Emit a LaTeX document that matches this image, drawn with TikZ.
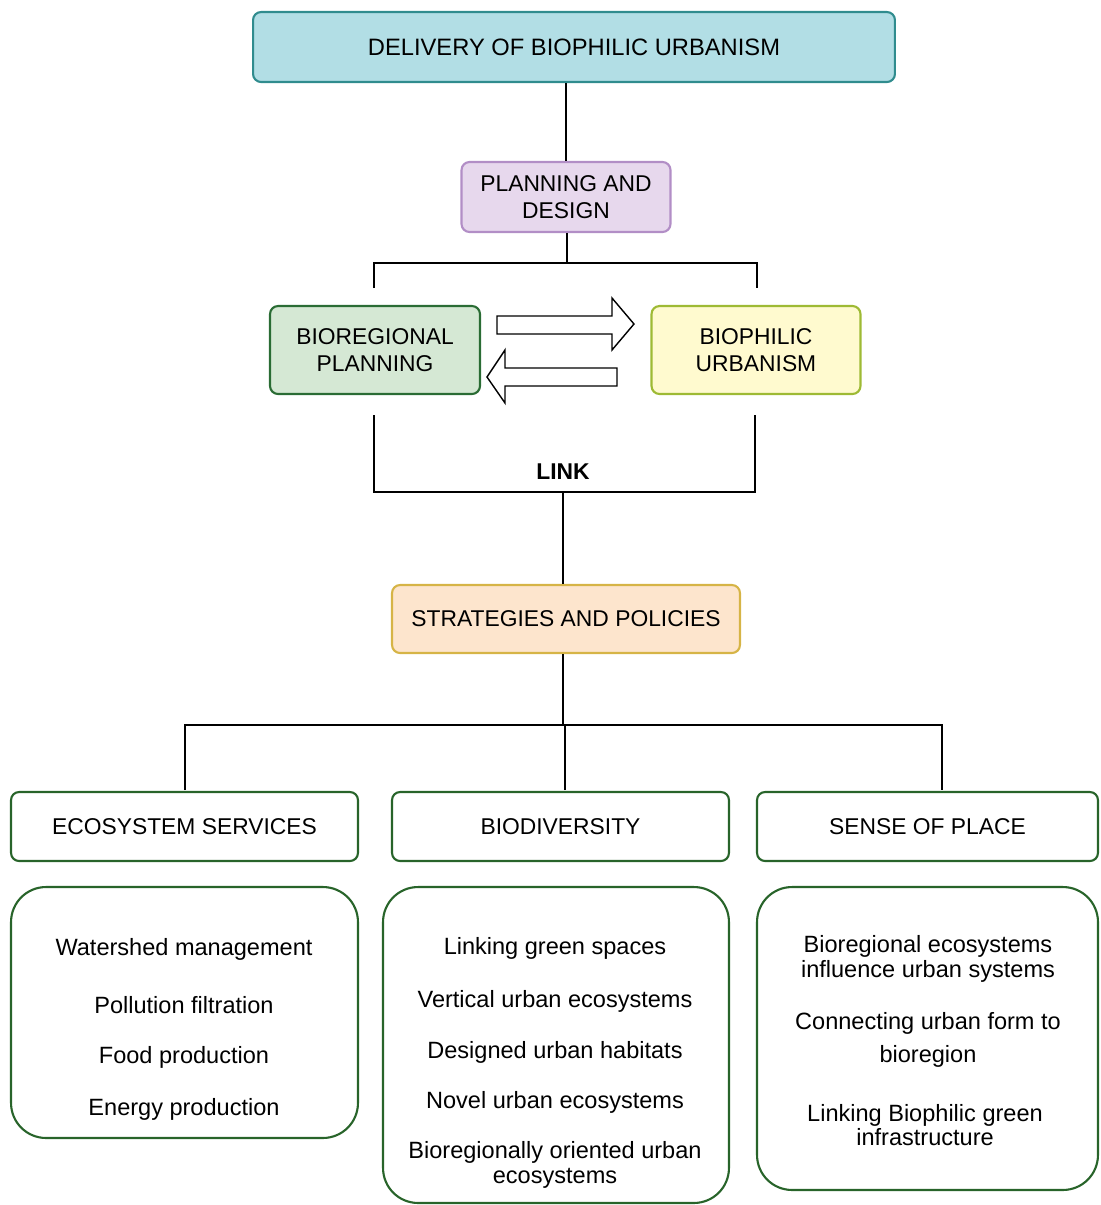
\documentclass[tikz,border=0pt]{standalone}
\usepackage{fontspec}
\setmainfont{Liberation Sans}
\usepackage{tikz}
\usetikzlibrary{positioning,calc}

\definecolor{topfill}{RGB}{178,222,229}
\definecolor{topline}{RGB}{48,140,142}
\definecolor{planfill}{RGB}{231,216,237}
\definecolor{planline}{RGB}{178,142,198}
\definecolor{biofill}{RGB}{213,232,212}
\definecolor{bioline}{RGB}{42,108,52}
\definecolor{philfill}{RGB}{255,250,207}
\definecolor{philline}{RGB}{158,186,52}
\definecolor{stratfill}{RGB}{253,229,205}
\definecolor{stratline}{RGB}{214,180,70}
\definecolor{boxline}{RGB}{40,100,42}

\tikzset{
  headbox/.style={draw, line width=1.2pt, rounded corners=0.16cm, align=center,
    font=\fontsize{13}{15.5}\selectfont, inner sep=0pt},
  catbox/.style={headbox, draw=boxline, fill=white, minimum height=1.38cm},
  listbox/.style={draw=boxline, line width=1.2pt, rounded corners=0.7cm, fill=white},
  item/.style={align=center, font=\fontsize{13.4}{13.8}\selectfont, inner sep=0pt},
  link/.style={line width=1.4pt},
  blockarrow/.style={draw, line width=0.8pt, fill=white}
}

\begin{document}
\begin{tikzpicture}[x=0.02cm, y=-0.02cm]
    \useasboundingbox (0,0) rectangle (1101,1205);

    % Top of the tree
    \node[headbox, draw=topline, fill=topfill, minimum width=12.84cm, minimum height=1.4cm,
      font=\fontsize{13.5}{16}\selectfont] (delivery) at (574,47) {DELIVERY OF BIOPHILIC URBANISM};
    \node[headbox, draw=planline, fill=planfill, minimum width=4.18cm, minimum height=1.4cm] (plan) at (566,197) {PLANNING AND\\DESIGN};
    \draw[link] (delivery.south -| plan) -- (plan);

    % Bioregional planning and biophilic urbanism
    \node[headbox, draw=bioline, fill=biofill, minimum width=4.2cm, minimum height=1.76cm] (bioreg) at (375,350) {BIOREGIONAL\\PLANNING};
    \node[headbox, draw=philline, fill=philfill, minimum width=4.18cm, minimum height=1.76cm] (biophil) at (756,350) {BIOPHILIC\\URBANISM};
    \coordinate (plantee) at (567,263);
    \coordinate (bioregtop) at (374,288);
    \coordinate (biophiltop) at (757,288);
    \draw[link] (plan.south -| plantee) -- (plantee);
    \draw[link] (bioregtop) |- (plantee) -| (biophiltop);

    % Exchange arrows
    \draw[blockarrow] (497,316) -- (612,316) -- (612,298) -- (634,324) -- (612,350) -- (612,334) -- (497,334) -- cycle;
    \draw[blockarrow] (617,368) -- (505,368) -- (505,350) -- (487,377) -- (505,403) -- (505,386) -- (617,386) -- cycle;

    % Link to strategies
    \coordinate (bioregfoot) at (374,415);
    \coordinate (biophilfoot) at (755,415);
    \coordinate (linkmid) at (563,492);
    \draw[link] (bioregfoot) |- (linkmid) -| (biophilfoot);
    \node[font=\fontsize{13}{15}\selectfont\bfseries, inner sep=0pt] (linklabel) at (563,472) {LINK};
    \node[headbox, draw=stratline, fill=stratfill, minimum width=6.96cm, minimum height=1.36cm] (strat) at (566,619) {STRATEGIES AND POLICIES};
    \draw[link] (linkmid) -- (strat.north -| linkmid);

    % Three categories
    \node[catbox, minimum width=6.94cm] (eco) at (184.5,826.5) {ECOSYSTEM SERVICES};
    \node[catbox, minimum width=6.74cm] (biodiv) at (560.5,826.5) {BIODIVERSITY};
    \node[catbox, minimum width=6.82cm] (sense) at (927.5,826.5) {SENSE OF PLACE};
    \coordinate (strattee) at (563,725);
    \coordinate (ecotop) at (185,790);
    \coordinate (biodivtop) at (565,790);
    \coordinate (sensetop) at (942,790);
    \draw[link] (strat.south -| strattee) -- (strattee);
    \draw[link] (ecotop) |- (strattee) -| (sensetop);
    \draw[link] (biodivtop) -- (biodivtop |- strattee);

    % Ecosystem services list
    \node[listbox, minimum width=6.94cm, minimum height=5.02cm] (ecolist) at (184.5,1012.5) {};
    \node[item] (eco1) at (184,949) {Watershed management};
    \node[item] (eco2) at (184,1005) {Pollution filtration};
    \node[item] (eco3) at (184,1057) {Food production};
    \node[item] (eco4) at (184,1109) {Energy production};

    % Biodiversity list
    \node[listbox, minimum width=6.92cm, minimum height=6.32cm] (biolist) at (556,1045) {};
    \node[item] (bio1) at (555,948) {Linking green spaces};
    \node[item] (bio2) at (555,1001) {Vertical urban ecosystems};
    \node[item] (bio3) at (555,1052) {Designed urban habitats};
    \node[item] (bio4) at (555,1102) {Novel urban ecosystems};
    \node[item] (bio5) at (555,1165) {Bioregionally oriented urban\\ecosystems};

    % Sense of place list
    \node[listbox, minimum width=6.82cm, minimum height=6.06cm] (senselist) at (927.5,1038.5) {};
    \node[item] (sen1) at (928,959) {Bioregional ecosystems\\influence urban systems};
    \node[item, font=\fontsize{13.4}{19}\selectfont] (sen2) at (928,1040) {Connecting urban form to\\bioregion};
    \node[item] (sen3) at (925,1125) {Linking Biophilic green\\infrastructure};

\end{tikzpicture}
\end{document}
